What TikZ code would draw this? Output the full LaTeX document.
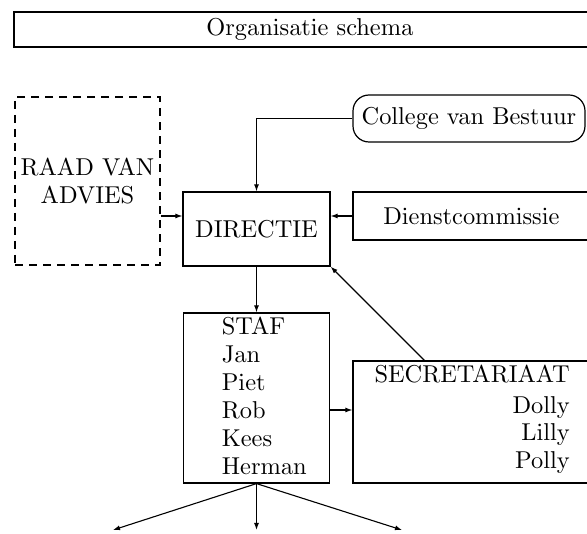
\documentclass[tikz,border=0pt]{standalone}
\usetikzlibrary{arrows.meta}
\font\bigrm=cmr10 at 24.4pt
\begin{document}
\tikzset{
  basefont/.style={font={\bigrm\baselineskip=27.6pt\relax}},
  box/.style={draw, line width=1.2pt, inner sep=0pt},
  plain/.style={inner sep=0pt},
  conn/.style={line width=1.1pt, -{Latex[length=7pt,width=5pt]}},
}
\begin{tikzpicture}[x=1pt,y=-1pt,basefont]
\useasboundingbox (0,0) rectangle (587,534);
\node[box, line width=1.5pt, minimum width=592pt, minimum height=35pt] (title) at (310,29.5) {Organisatie schema};
\node[box, dash pattern=on 8pt off 6pt, minimum width=145pt, minimum height=168pt, align=center] (raad) at (87.5,181) {RAAD VAN\\ADVIES};
\node[box, rounded corners=16pt, minimum width=232pt, minimum height=47pt] (college) at (469,118.5) {College van Bestuur};
\node[box, minimum width=147pt, minimum height=74pt] (directie) at (256.5,229) {DIRECTIE};
\node[box, minimum width=237pt, minimum height=48pt] (dienst) at (471.5,216) {Dienstcommissie};
\node[box, minimum width=146pt, minimum height=170pt] (staf) at (256.5,398) {};
\node[plain, anchor=base west, align=left, font={\bigrm\baselineskip=28pt\relax}] (staftext) at (221.7,475) {STAF\\Jan\\Piet\\Rob\\Kees\\Herman};
\node[box, minimum width=237pt, minimum height=122pt] (secr) at (471.5,422) {};
\node[plain, anchor=base east, align=right, font={\bigrm\baselineskip=27.3pt\relax}] (secrtext) at (570,468.3) {SECRETARIAAT\\[3.7pt]Dolly\\Lilly\\Polly};
\coordinate (o1) at (113,530);
\coordinate (o2) at (256.5,530);
\coordinate (o3) at (402,530);
\draw[conn] (college.west) -| (directie.north);
\draw[conn] (dienst.west) -- (dienst.west -| directie.east);
\draw[conn] (raad.east |- dienst.west) -- (directie.west |- dienst.west);
\draw[conn] (directie.south) -- (staf.north);
\draw[conn] ([xshift=72pt]secr.north west) -- (directie.south east);
\draw[conn] ([yshift=-12pt]staf.east) -- ([yshift=-12pt]staf.east -| secr.west);
\draw[conn] (staf.south) -- (o1);
\draw[conn] (staf.south) -- (o2);
\draw[conn] (staf.south) -- (o3);
\end{tikzpicture}
\end{document}
